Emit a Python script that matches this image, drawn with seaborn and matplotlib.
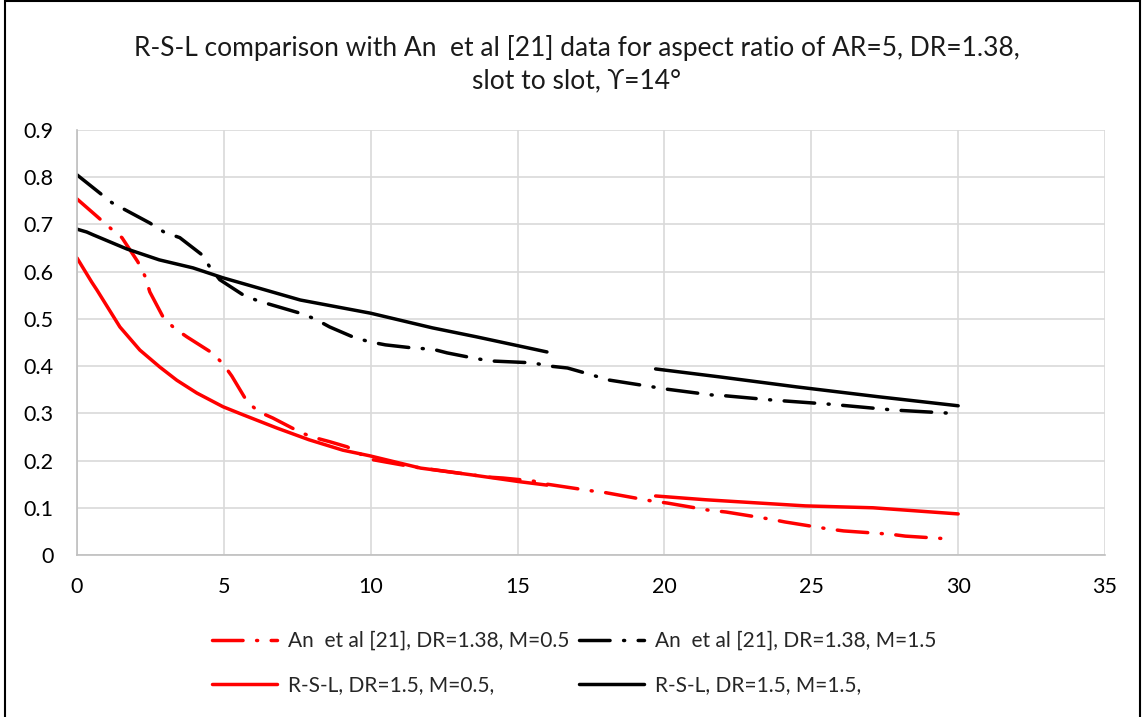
import matplotlib
matplotlib.use("Agg")
import matplotlib.pyplot as plt
from matplotlib.lines import Line2D
from matplotlib.patches import Rectangle
import seaborn as sns

# An et al [21], DR=1.38, M=0.5
an_m05_x = [0, 0.7, 1.12, 1.53, 2.07, 2.31, 2.48, 2.93, 3.3, 3.74, 4.6, 4.97, 5.27, 5.8, 6.2, 6.67,
            7.6, 8.0, 8.6, 9.2, 9.97, 10.5, 11.4, 14.0, 14.5, 15.5, 16.0, 17.5, 18.0, 19.6, 20.1,
            21.5, 22.1, 23.6, 24.1, 25.6, 26.1, 27.7, 28.2, 29.7]
an_m05_y = [0.754, 0.716, 0.693, 0.672, 0.621, 0.591, 0.557, 0.504, 0.481, 0.462, 0.428, 0.405, 0.379,
            0.324, 0.303, 0.29, 0.26, 0.25, 0.24, 0.229, 0.203, 0.197, 0.187, 0.165, 0.163, 0.157,
            0.15, 0.136, 0.132, 0.114, 0.11, 0.095, 0.091, 0.076, 0.07, 0.055, 0.051, 0.044, 0.04, 0.034]

# An et al [21], DR=1.38, M=1.5
an_m15_x = [0, 1.19, 2.48, 2.96, 3.5, 4.25, 4.52, 4.86, 5.65, 6.17, 7.6, 8.1, 8.6, 9.46, 10.0, 10.5,
            11.5, 12.1, 12.6, 13.5, 14.05, 15.5, 16.1, 16.7, 17.55, 18.06, 19.6, 20.1, 21.6, 22.1,
            23.7, 25.7, 27.8, 29.8]
an_m15_y = [0.805, 0.746, 0.703, 0.684, 0.672, 0.636, 0.61, 0.583, 0.551, 0.538, 0.512, 0.50, 0.483,
            0.46, 0.451, 0.445, 0.438, 0.436, 0.428, 0.417, 0.411, 0.407, 0.40, 0.396, 0.381, 0.371,
            0.356, 0.351, 0.339, 0.337, 0.328, 0.319, 0.307, 0.30]

# R-S-L, DR=1.5, M=0.5 (two segments)
rsl_m05_x = [[0, 0.5, 0.68, 1.46, 2.14, 2.82, 3.4, 4.08, 4.97, 5.65, 6.8, 7.9, 9.05, 9.97, 11.7,
              13.4, 15.1, 16.0],
             [19.7, 21.4, 24.8, 27.1, 30.0]]
rsl_m05_y = [[0.629, 0.578, 0.561, 0.483, 0.434, 0.398, 0.37, 0.343, 0.314, 0.297, 0.269, 0.244,
              0.222, 0.21, 0.184, 0.17, 0.155, 0.148],
             [0.125, 0.117, 0.104, 0.10, 0.087]]

# R-S-L, DR=1.5, M=1.5 (two segments)
rsl_m15_x = [[0, 0.33, 0.55, 1.7, 2.8, 3.95, 4.97, 7.6, 10.0, 12.1, 13.6, 16.0],
             [19.7, 21.9, 24.5, 27.3, 30.0]]
rsl_m15_y = [[0.69, 0.684, 0.678, 0.648, 0.625, 0.608, 0.587, 0.54, 0.512, 0.481, 0.462, 0.43],
             [0.394, 0.377, 0.356, 0.335, 0.316]]

labels = ["An  et al [21], DR=1.38, M=0.5", "An  et al [21], DR=1.38, M=1.5",
          "R-S-L, DR=1.5, M=0.5,", "R-S-L, DR=1.5, M=1.5,"]
x_ticks = [0, 5, 10, 15, 20, 25, 30, 35]
y_ticks = [0, 0.1, 0.2, 0.3, 0.4, 0.5, 0.6, 0.7, 0.8, 0.9]

title_text = "R-S-L comparison with An  et al [21] data for aspect ratio of AR=5, DR=1.38,\nslot to slot, \u03d2=14\u00b0"

sns.set_theme(style="white")
plt.rcParams["font.family"] = ["Lato", "DejaVu Sans"]

RED = "#ff0000"
BLACK = "#000000"
LW = 2.5
DASHDOT = (0, (8.8, 3.9, 0.3, 3.9))

fig = plt.figure(figsize=(11.44, 7.17), dpi=100)
ax = fig.add_axes([77 / 1144, 1 - 555 / 717, (1105 - 77) / 1144, (555 - 130) / 717])


def draw(xs, ys, color, ls):
    sns.lineplot(x=xs, y=ys, ax=ax, color=color, lw=LW, sort=False, estimator=None,
                 legend=False)
    line = ax.get_lines()[-1]
    line.set_linestyle(ls)
    line.set_dash_capstyle("round")
    line.set_solid_capstyle("round")


draw(an_m05_x, an_m05_y, RED, DASHDOT)
draw(an_m15_x, an_m15_y, BLACK, DASHDOT)
for sx, sy in zip(rsl_m05_x, rsl_m05_y):
    draw(sx, sy, RED, "-")
for sx, sy in zip(rsl_m15_x, rsl_m15_y):
    draw(sx, sy, BLACK, "-")

ax.set_xlim(0, 35)
ax.set_ylim(0, 0.9)
ax.set_xticks(x_ticks)
ax.set_yticks(y_ticks)
ax.set_xticklabels([str(t) for t in x_ticks])
ax.set_yticklabels(["0"] + [f"{t:.1f}" for t in y_ticks[1:]])
ax.tick_params(axis="both", labelsize=15.5, colors="#000000", length=0, pad=17)
ax.tick_params(axis="x", pad=16)
ax.grid(True, color="#d9d9d9", lw=1.2)
ax.set_axisbelow(True)
for side in ["top", "right"]:
    ax.spines[side].set_visible(False)
for side in ["left", "bottom"]:
    ax.spines[side].set_color("#bfbfbf")
    ax.spines[side].set_linewidth(1.2)
ax.set_xlabel("")
ax.set_ylabel("")

fig.text(577 / 1144, 1 - 64 / 717, title_text, ha="center", va="center", fontsize=19,
         linespacing=1.35, color="#1a1a1a")

handles = [
    Line2D([], [], color=RED, lw=LW, ls=DASHDOT, dash_capstyle="round"),
    Line2D([], [], color=RED, lw=LW, solid_capstyle="round"),
    Line2D([], [], color=BLACK, lw=LW, ls=DASHDOT, dash_capstyle="round"),
    Line2D([], [], color=BLACK, lw=LW, solid_capstyle="round"),
]
leg_labels = [labels[0], labels[2], labels[1], labels[3]]
fig.legend(handles, leg_labels, loc="center left", bbox_to_anchor=(202 / 1144, 1 - 663 / 717),
           ncol=2, frameon=False, fontsize=15, handlelength=3.1, handletextpad=0.55,
           columnspacing=0.45, labelspacing=1.15, borderpad=0)

fig.add_artist(Rectangle((5 / 1144, -0.01), 1135 / 1144, 1.0 + 0.01 - 1 / 717,
                         transform=fig.transFigure, fill=False, edgecolor="#000000", lw=1.5))

fig.savefig("out.png", dpi=100)
